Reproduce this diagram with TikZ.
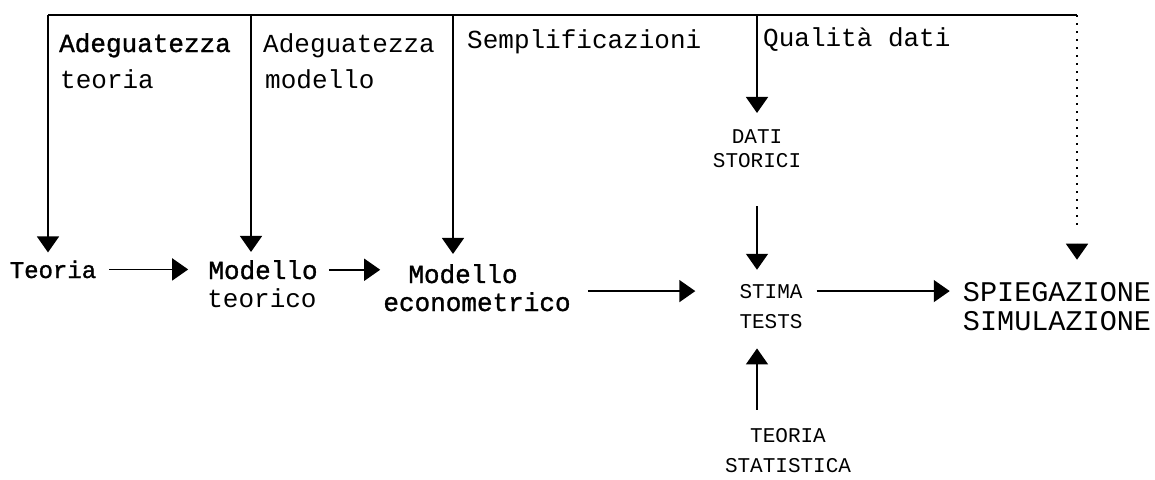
\documentclass[tikz,border=0pt]{standalone}
\usepackage{fontspec}
\setmonofont{Liberation Mono}
\newfontfamily\semibold[FakeBold=1.2]{Liberation Mono}
\usetikzlibrary{arrows.meta,calc}
\newcommand\myfs[1]{\fontsize{#1}{#1}\selectfont\ttfamily}
\newcommand\mybf[1]{\fontsize{#1}{#1}\selectfont\semibold}
\begin{document}
\begin{tikzpicture}[x=1pt,y=-1pt,
  lbl/.style={font=\myfs{26}, inner sep=0pt, anchor=base west},
  txt/.style={inner sep=0pt, anchor=base},
  ln/.style={line width=1.6pt},
  arr/.style={ln, -{Triangle[width=22pt,length=16pt]}},
  dotl/.style={line width=1.2pt, dash pattern=on 2pt off 6pt}]
\useasboundingbox (0,0) rectangle (1155,479);
% top bar coordinates
\coordinate (c1) at (48,15);
\coordinate (c2) at (251,15);
\coordinate (c3) at (453,15);
\coordinate (c4) at (757,15);
\coordinate (c5) at (1077,15);
% labels
\node[lbl, font=\mybf{26}] (l1a) at (59,52) {Adeguatezza};
\node[lbl] (l1b) at (60,88) {teoria};
\node[lbl] (l2a) at (263,52) {Adeguatezza};
\node[lbl] (l2b) at (265,88) {modello};
\node[lbl] (l3) at (467,48) {Semplificazioni};
\node[lbl] (l4) at (763,46) {Qualità dati};
% main nodes
\node[txt, font=\mybf{24}] (teoria) at (53,278) {Teoria};
\node[txt, font=\mybf{26}] (mod1) at (263,279) {Modello};
\node[txt, font=\myfs{26}] (mod1b) at (262,307) {teorico};
\node[txt, font=\mybf{26}] (mod2) at (463,283) {Modello};
\node[txt, font=\mybf{26}] (mod2b) at (477,311) {econometrico};
\node[txt, font=\myfs{21}] (dati) at (757,143) {DATI};
\node[txt, font=\myfs{21}] (storici) at (757,167) {STORICI};
\node[txt, font=\myfs{21}] (stima) at (771,298) {STIMA};
\node[txt, font=\myfs{21}] (tests) at (771,328) {TESTS};
\node[txt, font=\myfs{28.5}] (spieg) at (1057,301) {SPIEGAZIONE};
\node[txt, font=\myfs{28.5}] (simul) at (1057,330) {SIMULAZIONE};
\node[txt, font=\myfs{21}] (teoriast) at (788,442) {TEORIA};
\node[txt, font=\myfs{21}] (statist) at (788,472) {STATISTICA};
% top bar and drops
\draw[line width=1.8pt] (c1) -- (c5);
\draw[arr, shorten >=8pt] (c1) -- (c1 |- teoria.north);
\draw[arr, shorten >=8pt] (c2) -- (c2 |- mod1.north);
\draw[arr, shorten >=10pt] (c3) -- (c3 |- mod2.north);
\draw[arr, shorten >=16pt] (c4) -- (c4 |- dati.north);
\draw[dotl, shorten >=57pt] (c5) -- (c5 |- spieg.north);
\draw[arr, shorten >=22pt] ($(c5 |- spieg.north)+(0,-38)$) -- (c5 |- spieg.north);
% flow arrows
\draw[arr, shorten <=13pt, shorten >=20pt] (teoria.east) -- (teoria.east -| mod1.west);
\draw[arr, shorten <=11pt, shorten >=28pt] (mod1.east) -- (mod1.east -| mod2.west);
\draw[arr, shorten <=17pt, shorten >=44pt] (stima.west -| mod2b.east) -- (stima.west);
\draw[arr, shorten <=14pt, shorten >=13pt] (stima.east) -- (stima.east -| spieg.west);
\draw[arr, shorten <=39pt, shorten >=14pt] (storici.south -| c4) -- (stima.north -| c4);
\draw[arr, shorten <=18pt, shorten >=20pt] (teoriast.north -| c4) -- (tests.south -| c4);
\end{tikzpicture}
\end{document}
